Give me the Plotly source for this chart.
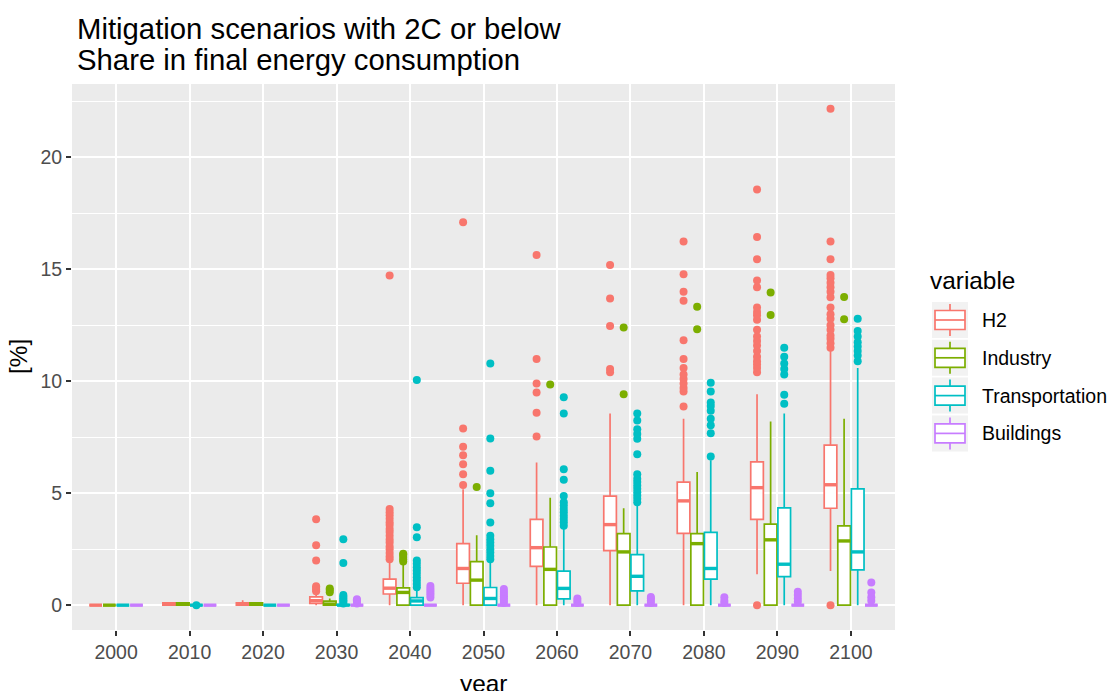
import plotly.graph_objects as go

# ---------------- data ----------------
years = [2000, 2010, 2020, 2030, 2040, 2050, 2060, 2070, 2080, 2090, 2100]
variables = ["H2", "Industry", "Transportation", "Buildings"]
colors = ["#F8766D", "#7CAE00", "#00BFC4", "#C77CFF"]

# H2 share (%)
h2_lower = [0, 0, 0, 0, 0, 0, 0, 0, 0, 1.38, 1.53]
h2_q1 = [0, 0, 0, 0.08, 0.50, 0.98, 1.73, 2.44, 3.21, 3.83, 4.33]
h2_median = [0, 0.05, 0.05, 0.20, 0.76, 1.64, 2.57, 3.60, 4.66, 5.25, 5.38]
h2_q3 = [0, 0.10, 0.10, 0.37, 1.16, 2.75, 3.83, 4.87, 5.50, 6.40, 7.15]
h2_upper = [0, 0.10, 0.22, 0.55, 1.95, 5.18, 6.37, 8.56, 8.33, 9.42, 11.40]
h2_outliers = [
    [], [], [],
    [0.62, 0.70, 0.78, 0.85, 2.00, 2.68, 3.84],
    [2.05, 2.18, 2.33, 2.50, 2.62, 2.80, 2.93, 3.10, 3.27, 3.40, 3.58, 3.70, 3.86, 4.02, 4.15, 4.30, 14.73],
    [5.37, 5.85, 6.30, 6.70, 7.08, 7.89, 17.10],
    [7.53, 8.60, 9.50, 9.90, 11.00, 15.64],
    [10.40, 10.55, 12.47, 13.70, 15.20],
    [8.87, 9.54, 9.70, 9.90, 10.10, 10.30, 10.60, 11.00, 11.83, 13.60, 14.00, 14.78, 16.24],
    [0, 10.40, 10.60, 10.75, 10.90, 11.10, 11.35, 11.60, 11.80, 12.00, 12.30, 12.75, 12.95,
     13.10, 13.30, 14.20, 14.50, 15.45, 16.45, 18.57],
    [0, 11.50, 11.70, 11.90, 12.05, 12.30, 12.50, 12.80, 13.00, 13.30, 13.75, 14.00, 14.20,
     14.40, 14.60, 14.75, 15.45, 16.24, 22.17],
]

# Industry share (%)
ind_lower = [0] * 11
ind_q1 = [0] * 11
ind_median = [0, 0.05, 0.05, 0.05, 0.57, 1.12, 1.60, 2.38, 2.75, 2.92, 2.87]
ind_q3 = [0, 0.10, 0.10, 0.18, 0.77, 1.95, 2.60, 3.20, 3.20, 3.62, 3.54]
ind_upper = [0, 0.10, 0.10, 0.30, 1.80, 3.12, 4.80, 4.33, 5.95, 8.20, 8.33]
ind_outliers = [
    [], [], [],
    [0.58, 0.68, 0.75],
    [1.95, 2.05, 2.15, 2.25, 2.30],
    [5.28],
    [9.86],
    [9.42, 12.40],
    [12.32, 13.33],
    [12.96, 13.97],
    [12.77, 13.77],
]

# Transportation share (%)
tr_lower = [0] * 11
tr_q1 = [0, 0, 0, 0, 0, 0, 0.28, 0.64, 1.16, 1.28, 1.58]
tr_median = [0, 0, 0, 0, 0.19, 0.30, 0.75, 1.29, 1.64, 1.83, 2.38]
tr_q3 = [0, 0, 0, 0.03, 0.34, 0.79, 1.52, 2.26, 3.25, 4.35, 5.20]
tr_upper = [0, 0, 0, 0.03, 0.72, 1.88, 3.45, 4.48, 6.47, 8.56, 10.60]
tr_outliers = [
    [], [0], [],
    [0.08, 0.15, 0.22, 0.30, 0.38, 0.45, 1.88, 2.95],
    [0.80, 0.95, 1.10, 1.25, 1.40, 1.55, 1.70, 1.85, 2.00, 3.04, 3.48, 10.06],
    [2.05, 2.20, 2.35, 2.50, 2.65, 2.80, 2.95, 3.10, 3.69, 4.55, 5.00, 6.00, 7.45, 10.80],
    [3.55, 3.70, 3.85, 4.00, 4.15, 4.30, 4.45, 4.60, 4.88, 5.60, 6.07, 8.56, 9.29],
    [4.60, 4.75, 4.90, 5.05, 5.20, 5.35, 5.50, 5.65, 5.85, 6.74, 7.43, 7.65, 7.86, 8.25, 8.56],
    [6.64, 7.68, 8.04, 8.33, 8.68, 8.90, 9.05, 9.54, 9.94],
    [9.00, 9.40, 10.30, 10.55, 10.80, 11.10, 11.50],
    [10.90, 11.15, 11.35, 11.55, 11.75, 12.00, 12.25, 12.80],
]

# Buildings share (%)
bld_lower = [0] * 11
bld_q1 = [0] * 11
bld_median = [0] * 11
bld_q3 = [0] * 11
bld_upper = [0] * 11
bld_outliers = [
    [], [], [],
    [0.08, 0.15, 0.22, 0.27],
    [0.34, 0.45, 0.55, 0.65, 0.75, 0.86],
    [0.10, 0.20, 0.30, 0.40, 0.50, 0.60, 0.72],
    [0.10, 0.20, 0.30],
    [0.10, 0.20, 0.30, 0.37],
    [0.10, 0.20, 0.35],
    [0.15, 0.30, 0.45, 0.60],
    [0.20, 0.36, 0.57, 1.01],
]

stats = {
    "H2": (h2_lower, h2_q1, h2_median, h2_q3, h2_upper, h2_outliers),
    "Industry": (ind_lower, ind_q1, ind_median, ind_q3, ind_upper, ind_outliers),
    "Transportation": (tr_lower, tr_q1, tr_median, tr_q3, tr_upper, tr_outliers),
    "Buildings": (bld_lower, bld_q1, bld_median, bld_q3, bld_upper, bld_outliers),
}

# ---------------- geometry / style ----------------
W, H = 1112, 691
PL, PR, PT, PB = 72, 895, 84, 630          # panel edges in px
DODGE = 0.185                                # spacing between dodged boxes
BOX_W = 0.172                                # box width (category units)
FONT = "Liberation Sans, Arial, sans-serif"
TICK_SIZE = 19.5
TITLE_SIZE = 24.4


def px_x(px):
    return (px - PL) / (PR - PL)


def px_y(py):
    return (PB - py) / (PB - PT)


fig = go.Figure()
cat_pos = list(range(len(years)))

for j, (var, col) in enumerate(zip(variables, colors)):
    lo, q1, med, q3, hi, outs = stats[var]
    off = (j - (len(variables) - 1) / 2) * DODGE
    xs = [c + off for c in cat_pos]

    fig.add_trace(go.Box(
        x=xs, q1=q1, median=med, q3=q3, lowerfence=lo, upperfence=hi,
        width=BOX_W, whiskerwidth=0, boxpoints=False,
        line=dict(color=col, width=1.7), fillcolor="white",
        name=var, showlegend=False, hoverinfo="skip",
    ))

    # thicker median bar, as in ggplot's crossbar
    mx, my = [], []
    for x, m in zip(xs, med):
        mx += [x - BOX_W / 2, x + BOX_W / 2, None]
        my += [m, m, None]
    fig.add_trace(go.Scatter(
        x=mx, y=my, mode="lines", line=dict(color=col, width=3.4),
        showlegend=False, hoverinfo="skip",
    ))

    # outlying scenarios
    ox, oy = [], []
    for x, vals in zip(xs, outs):
        ox += [x] * len(vals)
        oy += vals
    fig.add_trace(go.Scatter(
        x=ox, y=oy, mode="markers",
        marker=dict(color=col, size=8, line=dict(width=0)),
        showlegend=False, hoverinfo="skip",
    ))

# ---------------- hand-drawn legend (ggplot style keys) ----------------
shapes = []
annotations = []
key_x0, key_x1 = 932, 968
row0, row_step = 320, 37.8
for i, (var, col) in enumerate(zip(variables, colors)):
    cy = row0 + i * row_step
    shapes.append(dict(type="rect", xref="paper", yref="paper",
                       x0=px_x(key_x0), x1=px_x(key_x1), y0=px_y(cy + 18), y1=px_y(cy - 18),
                       fillcolor="#F2F2F2", line=dict(width=0), layer="above"))
    xm = (key_x0 + key_x1) / 2
    for ya, yb in ((cy - 16, cy - 9.5), (cy + 9.5, cy + 16)):
        shapes.append(dict(type="line", xref="paper", yref="paper",
                           x0=px_x(xm), x1=px_x(xm), y0=px_y(ya), y1=px_y(yb),
                           line=dict(color=col, width=1.7), layer="above"))
    shapes.append(dict(type="rect", xref="paper", yref="paper",
                       x0=px_x(935), x1=px_x(965), y0=px_y(cy + 9.5), y1=px_y(cy - 9.5),
                       fillcolor="white", line=dict(color=col, width=1.7), layer="above"))
    shapes.append(dict(type="line", xref="paper", yref="paper",
                       x0=px_x(935), x1=px_x(965), y0=px_y(cy), y1=px_y(cy),
                       line=dict(color=col, width=1.7), layer="above"))
    annotations.append(dict(text=var, xref="paper", yref="paper", x=px_x(980), y=px_y(cy),
                            xanchor="left", yanchor="middle", showarrow=False,
                            font=dict(family=FONT, size=TICK_SIZE, color="black")))

annotations.append(dict(text="variable", xref="paper", yref="paper", x=px_x(928), y=px_y(280),
                        xanchor="left", yanchor="middle", showarrow=False,
                        font=dict(family=FONT, size=TITLE_SIZE, color="black")))

# ---------------- titles ----------------
annotations.append(dict(text="Mitigation scenarios with 2C or below", xref="paper", yref="paper",
                        x=px_x(75), y=px_y(28.5), xanchor="left", yanchor="middle",
                        showarrow=False, font=dict(family=FONT, size=29.3, color="black")))
annotations.append(dict(text="Share in final energy consumption", xref="paper", yref="paper",
                        x=px_x(75), y=px_y(60), xanchor="left", yanchor="middle",
                        showarrow=False, font=dict(family=FONT, size=29.3, color="black")))
annotations.append(dict(text="[%]", xref="paper", yref="paper", x=px_x(18), y=px_y(357),
                        xanchor="center", yanchor="middle", textangle=-90, showarrow=False,
                        font=dict(family=FONT, size=TITLE_SIZE, color="black")))
annotations.append(dict(text="year", xref="paper", yref="paper", x=px_x(483.5), y=px_y(683),
                        xanchor="center", yanchor="middle", showarrow=False,
                        font=dict(family=FONT, size=TITLE_SIZE, color="black")))

fig.update_layout(
    width=W, height=H, autosize=False,
    margin=dict(l=PL, r=W - PR, t=PT, b=H - PB, pad=0),
    paper_bgcolor="white", plot_bgcolor="#EBEBEB",
    boxmode="overlay", showlegend=False,
    font=dict(family=FONT),
    shapes=shapes, annotations=annotations,
    xaxis=dict(
        range=[-0.6, len(years) - 1 + 0.6], tickmode="array",
        tickvals=cat_pos, ticktext=[str(y) for y in years],
        showgrid=True, gridcolor="white", gridwidth=2, zeroline=False, showline=False,
        ticks="outside", ticklen=5, tickwidth=1.5, tickcolor="#333333",
        tickfont=dict(family=FONT, size=TICK_SIZE, color="#4D4D4D"),
    ),
    yaxis=dict(
        range=[-1.108, 23.28], tickmode="array", tickvals=[0, 5, 10, 15, 20],
        showgrid=True, gridcolor="white", gridwidth=2, zeroline=False, showline=False,
        minor=dict(tickvals=[2.5, 7.5, 12.5, 17.5, 22.5], showgrid=True,
                   gridcolor="white", gridwidth=1, ticks=""),
        ticks="outside", ticklen=5, tickwidth=1.5, tickcolor="#333333",
        tickfont=dict(family=FONT, size=TICK_SIZE, color="#4D4D4D"),
    ),
)

fig.write_html("out.html")
